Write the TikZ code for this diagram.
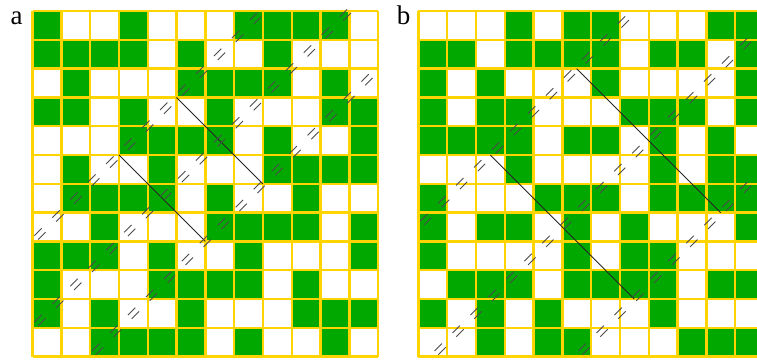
\documentclass[tikz,border=0pt]{standalone}
\usepackage{fontspec}
\setmainfont{Liberation Serif}
\definecolor{cellgreen}{RGB}{0,168,0}
\definecolor{gridgold}{RGB}{255,212,0}
\definecolor{markgray}{RGB}{75,75,75}
\begin{document}
\begin{tikzpicture}[x=1pt,y=-1pt,
  cell/.style={fill=cellgreen},
  gridline/.style={draw=gridgold,line width=2.4pt},
  solidline/.style={draw=black!85,line width=0.9pt},
  dbl/.style={draw=markgray,line width=0.9pt,dash pattern=on 10.5pt off 14.9pt,dash phase=20.1pt},
  lbl/.style={font=\fontsize{27}{27}\selectfont,inner sep=0pt,anchor=base}]
\useasboundingbox (0,0) rectangle (757,361);
\node[lbl] (la) at (16.5,24.5) {a};
\node[lbl] (lb) at (403.5,24.5) {b};
% ---------- grid a ----------
\begin{scope}[shift={(32.5,11)},x=28.8pt,y=-28.8pt]
\foreach \row [count=\r from 0] in {
 {1,0,0,1,0,0,0,1,1,1,1,0},
 {1,1,1,1,0,1,0,0,1,0,0,0},
 {0,1,0,0,0,1,1,1,1,0,1,0},
 {1,1,0,1,0,0,1,0,0,0,1,1},
 {0,0,0,1,1,1,1,0,1,0,0,1},
 {0,1,0,0,1,0,0,0,1,1,1,1},
 {0,1,1,1,1,0,1,0,0,1,0,0},
 {0,0,1,0,0,0,1,1,1,1,0,1},
 {1,1,1,0,1,0,0,1,0,0,0,1},
 {1,0,0,0,1,1,1,1,0,1,0,0},
 {1,0,1,0,0,1,0,0,0,1,1,1},
 {0,0,1,1,1,1,0,1,0,0,1,0}}{
  \foreach \v [count=\c from 0] in \row {
    \ifnum\v=1 \fill[cell] (\c,\r) rectangle ++(1,1); \fi
  }
}
\foreach \k in {0,...,12}{
  \draw[gridline] (\k,0) -- (\k,12);
  \draw[gridline] (0,\k) -- (12,\k);
}
\coordinate (aA1) at (0,8);   \coordinate (aA2) at (8,0);
\coordinate (aC1) at (0,11);  \coordinate (aC2) at (11,0);
\coordinate (aB1) at (2,12);  \coordinate (aB2) at (12,2);
\coordinate (aP1) at (5,3);   \coordinate (aP2) at (8,6);
\coordinate (aQ1) at (3,5);   \coordinate (aQ2) at (6,8);
\end{scope}
% ---------- grid b ----------
\begin{scope}[shift={(418.3,11)},x=28.8pt,y=-28.8pt]
\foreach \row [count=\r from 0] in {
 {0,0,0,1,0,1,1,0,0,0,1,1},
 {1,1,0,1,1,1,1,0,1,1,0,1},
 {1,0,1,0,0,0,1,0,0,0,0,1},
 {1,0,1,1,0,0,0,1,1,1,0,1},
 {1,1,1,1,0,1,1,0,1,0,1,0},
 {0,0,0,1,0,0,0,0,1,0,1,1},
 {1,0,0,0,1,1,1,0,1,1,1,1},
 {1,0,1,1,0,1,0,1,0,0,0,1},
 {1,0,0,0,0,1,0,1,1,0,0,0},
 {0,1,1,1,0,1,1,1,1,0,1,1},
 {1,0,1,0,1,0,0,0,1,0,0,0},
 {0,0,1,0,1,1,0,0,0,1,1,1}}{
  \foreach \v [count=\c from 0] in \row {
    \ifnum\v=1 \fill[cell] (\c,\r) rectangle ++(1,1); \fi
  }
}
\foreach \k in {0,...,12}{
  \draw[gridline] (\k,0) -- (\k,12);
  \draw[gridline] (0,\k) -- (12,\k);
}
\coordinate (bA1) at (0,7.5);   \coordinate (bA2) at (7.5,0);
\coordinate (bC1) at (0.5,12);  \coordinate (bC2) at (12,0.5);
\coordinate (bB1) at (5.5,12);  \coordinate (bB2) at (12,5.5);
\coordinate (bP1) at (5.5,2);   \coordinate (bP2) at (10.5,7);
\coordinate (bQ1) at (2.5,5);   \coordinate (bQ2) at (7.5,10);
\end{scope}
% ---------- solid sides ----------
\draw[solidline] (aP1) -- (aP2);
\draw[solidline] (aQ1) -- (aQ2);
\draw[solidline] (bP1) -- (bP2);
\draw[solidline] (bQ1) -- (bQ2);
% ---------- dashed double lines ----------
\foreach \s in {1.9,-1.9}{
  \begin{scope}[transform canvas={shift={(\s pt,-\s pt)}}]
    \draw[dbl] (aA1) -- (aA2);
    \draw[dbl] (aC1) -- (aC2);
    \draw[dbl] (aB1) -- (aB2);
    \draw[dbl] (bA1) -- (bA2);
    \draw[dbl] (bC1) -- (bC2);
    \draw[dbl] (bB1) -- (bB2);
  \end{scope}
}
\end{tikzpicture}
\end{document}
